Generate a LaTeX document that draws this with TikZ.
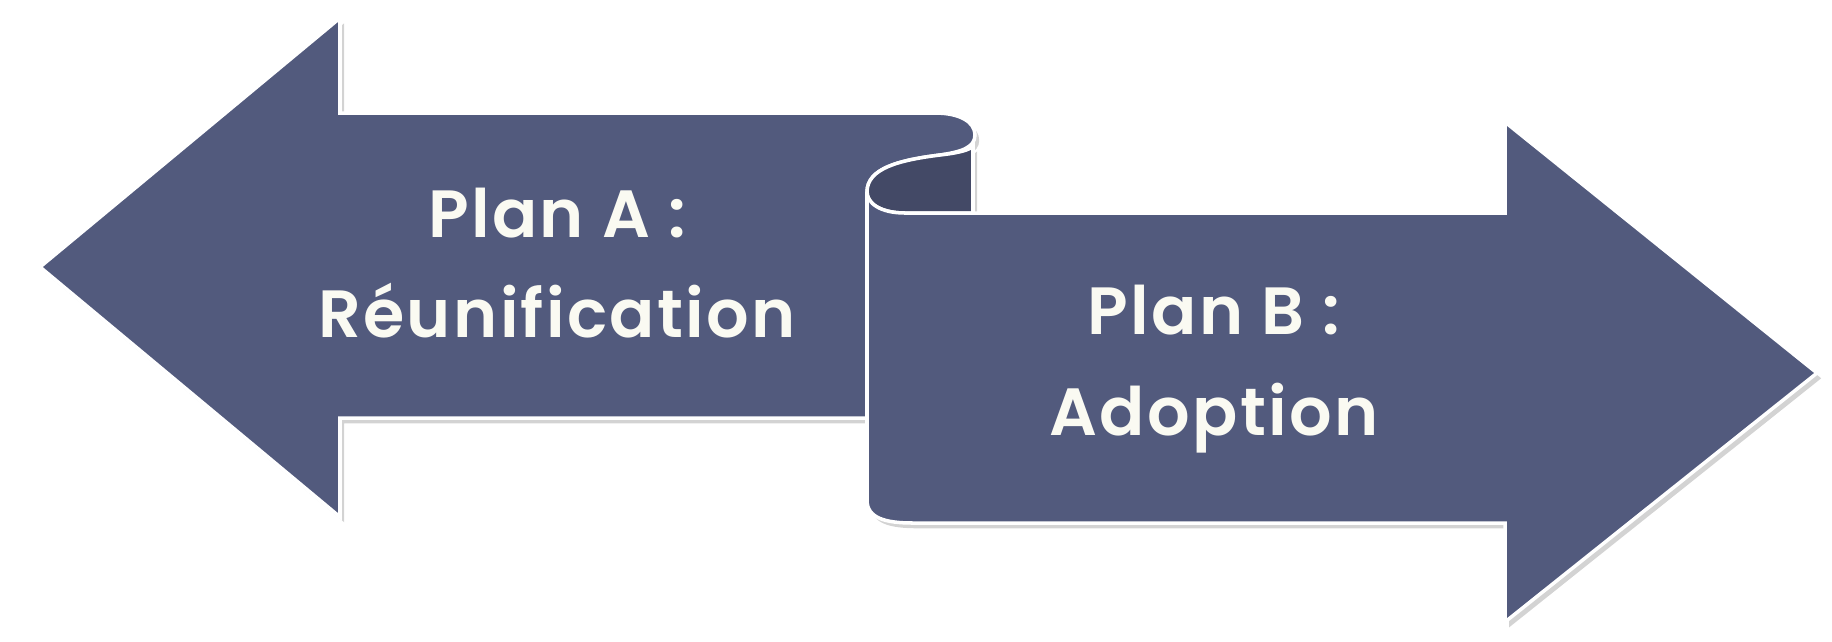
\documentclass[tikz,border=0pt]{standalone}
\usepackage{fontspec}
\setmainfont{Poppins}[BoldFont={* SemiBold}, LetterSpace=3.5]
\usetikzlibrary{positioning,shadows}
\tikzset{>=stealth}
\definecolor{scrollblue}{HTML}{525A7D}
\definecolor{scrolldark}{HTML}{434966}
\definecolor{labelwhite}{HTML}{FAFAF2}

\begin{document}
\begin{tikzpicture}[x=0.01cm,y=-0.01cm,
	band/.style = {% arrow faces
		fill=scrollblue, draw=white, line width=1pt, line join=miter,
		drop shadow={shadow xshift=1.2pt, shadow yshift=-1.5pt, opacity=0.35}},
	roll/.style = {% inside of the curl
		band, fill=scrolldark},
	lbl/.style = {% plan labels
		text=labelwhite, align=center, font=\fontsize{19}{28.5}\bfseries\selectfont},
	]

	\useasboundingbox (0,0) rectangle (1832,641);

	% left arrow
	\draw[band] (40,267) -- (340,18) -- (340,113) -- (935,113)
		.. controls (960,113) and (975,122) .. (975,135)
		.. controls (975,148) and (960,152) .. (940,155)
		.. controls (900,160) and (867,168) .. (867,192)
		-- (867,418) -- (340,418) -- (340,517) -- cycle;
	% curl
	\draw[roll] (973,146) -- (973,213) -- (905,213)
		.. controls (880,213) and (867,203) .. (867,192)
		.. controls (867,168) and (900,160) .. (940,155)
		.. controls (958,153) and (970,150) .. cycle;
	% right arrow
	\draw[band] (867,192) .. controls (867,203) and (880,213) .. (905,213)
		-- (1505,213) -- (1505,122) -- (1817,373) -- (1505,622) -- (1505,523)
		-- (913,523) .. controls (885,523) and (867,518) .. (867,500) -- cycle;

	% labels
	\node[lbl] (planA) at (557,263) {Plan A :\\Réunification};
	\node[lbl] (planB) at (1214,369) {Plan B :\\Adoption};

\end{tikzpicture}
\end{document}
